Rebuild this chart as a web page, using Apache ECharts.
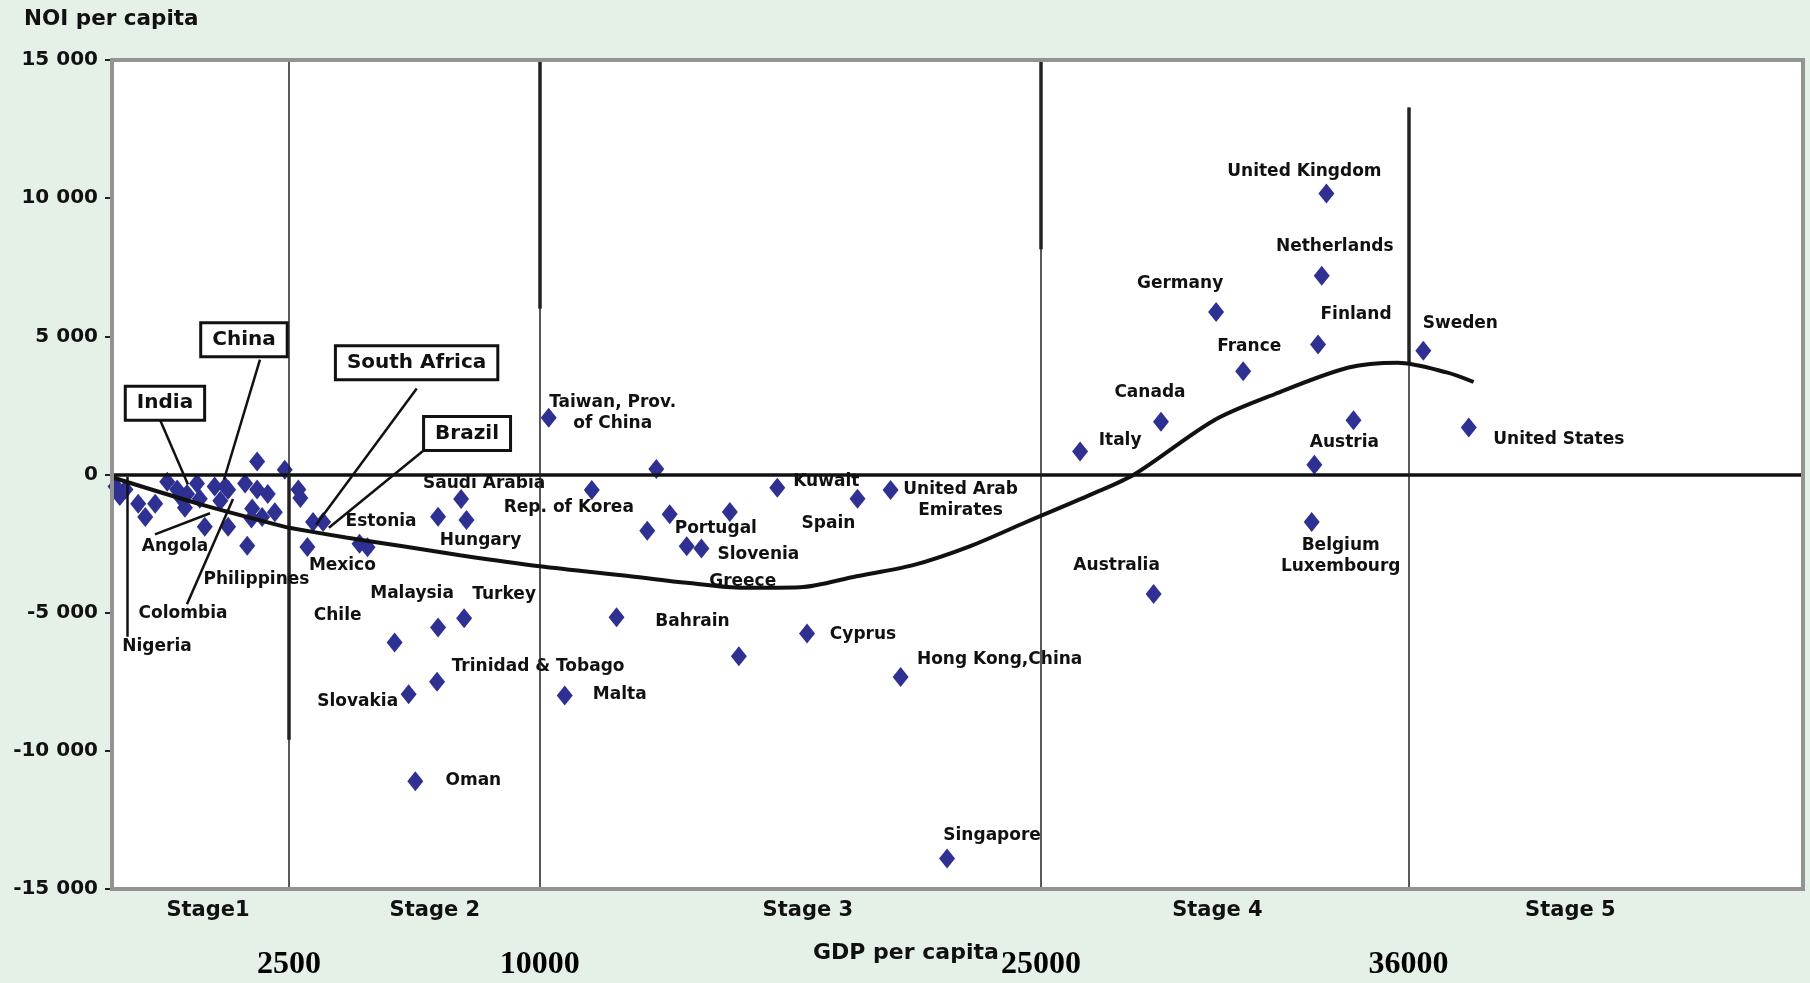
<!DOCTYPE html>
<html><head><meta charset="utf-8">
<script src="https://cdn.jsdelivr.net/npm/echarts@6/dist/echarts.min.js"></script>
<style>html,body{margin:0;padding:0;background:#e5f0e6;}#chart{width:1810px;height:983px;}</style>
</head><body><div id="chart"></div>
<script>
// ---------------- data ----------------
const countries = [
  '', '', '', '', '', '', '', '', '', '', '', '', '', '', '', '', '', '', '', '', '', '', '', '', '', '', '', '', '',
  '', '', '', 'Estonia', 'Mexico', '', '', 'Saudi Arabia', '', 'Hungary', 'Chile', 'Malaysia', 'Turkey',
  'Trinidad & Tobago', 'Slovakia', 'Oman',
  'Taiwan, Prov.\nof China', '', 'Rep. of Korea', '', '', 'Portugal', 'Greece', 'Slovenia', 'Kuwait', 'Spain',
  'United Arab\nEmirates', 'Bahrain', 'Cyprus', '', 'Hong Kong,China', 'Malta', 'Singapore',
  'Italy', 'United Kingdom', 'Netherlands', 'Germany', 'Finland', 'France', 'Sweden', 'Canada', '',
  'United States', 'Austria', 'Belgium\nLuxembourg', 'Australia'
];
const gdpPerCapita = [
  50, 110, 370, 470, 610, 780, 920, 1060, 1030, 1200, 1240, 1450, 1530, 1600, 1310, 1640, 1910, 2050, 2440, 1880, 2050, 2200, 2300, 1980, 2120, 190, 1970, 1640, 960,
  2780, 2840, 3220, 3520, 3050, 4610, 4850, 7650, 6960, 7810, 5660, 6960, 7740,
  6930, 6080, 6280,
  10270, 13490, 11560, 13890, 13220, 15690, 14400, 14840, 17110, 19510,
  20500, 12300, 18000, 15960, 20800, 10750, 22190,
  26170, 33540, 33400, 30240, 33290, 31050, 36440, 28590, 34350,
  37800, 33180, 33100, 28370
];
const noiPerCapita = [
  -430, -780, -1060, -1540, -1060, -260, -540, -710, -1200, -330, -880, -430, -950, -430, -1890, -1890, -2580, 470, 170, -330, -540, -710, -1370, -1230, -1540, -540, -1590, -550, -800,
  -540, -850, -1715, -1715, -2620, -2510, -2630, -890, -1530, -1650, -6080, -5540, -5200,
  -7500, -7950, -11100,
  2050, 200, -560, -1440, -2040, -1360, -2600, -2680, -480, -880,
  -560, -5170, -5750, -6580, -7330, -8000, -13900,
  830, 10170, 7190, 5880, 4700, 3740, 4480, 1910, 1960,
  1700, 350, -1720, -4320
];

// fitted trend curve
const trendGdp = [0, 1240, 2500, 4205, 5909, 7614, 10000, 12709, 14402, 16095, 17788, 19481, 21174, 22867, 24560, 26504, 27787, 30171, 32004, 34204, 35671, 37137, 37944];
const trendNoi = [-100, -1070, -1930, -2280, -2600, -2920, -3320, -3680, -3920, -4100, -4080, -3680, -3280, -2600, -1720, -720, 0, 1957, 2913, 3870, 4043, 3696, 3348];

// stage boundaries on the GDP axis
const stageBoundaries = [2500, 10000, 25000, 36000];
const stageBoundaryLabels = ['2500', '10000', '25000', '36000'];
const stageBoundaryTop = [15000, 15000, 15000, 13280];
// darker overdrawn pieces of the boundary lines
const boldPieceTop = [0, 15000, 15000, 13280];
const boldPieceBottom = [-9600, 6000, 8150, 4000];

const stageNames = ['Stage1', 'Stage 2', 'Stage 3', 'Stage 4', 'Stage 5'];
const stageNameGdp = [1356, 6864, 18025, 30280, 40840];

// boxed call-outs and plain notes for the crowded low-income group
const calloutNames = ['India', 'China', 'South Africa', 'Brazil'];
const calloutGdp = [748, 1864, 6318, 7828];
const calloutNoi = [2579, 4876, 4044, 1487];
const noteNames = ['Angola', 'Philippines', 'Colombia', 'Nigeria'];
const noteGdp = [890, 2040, 1003, 635];
const noteNoi = [-2617, -3794, -5042, -6237];
// leader lines: from (gdp, noi) to (gdp, noi)
const leaderFromGdp = [678, 2090, 607, 1059, 212, 6322, 6618];
const leaderFromNoi = [1977, 4160, -2166, -4695, -87, 3109, 961];
const leaderToGdp = [1073, 1581, 1384, 1709, 212, 3311, 3693];
const leaderToNoi = [-364, -190, -1403, -884, -5873, -1820, -1924];

const yMin = -15000, yMax = 15000, yStep = 5000;

// ---------------- layout / style ----------------
const labelOffsets = {
  'Saudi Arabia': [23, -16], 'Hungary': [14, 20], 'Estonia': [58, 0], 'Mexico': [35, 19],
  'Chile': [-57, -27], 'Malaysia': [-26, -34], 'Turkey': [40, -24], 'Trinidad & Tobago': [101, -15],
  'Slovakia': [-51, 7], 'Oman': [58, -1], 'Taiwan, Prov.\nof China': [64, -5], 'Rep. of Korea': [-23, 18],
  'Portugal': [-14, 16], 'Slovenia': [57, 6], 'Greece': [56, 35], 'Kuwait': [49, -6], 'Spain': [-29, 25],
  'United Arab\nEmirates': [70, 10], 'Bahrain': [76, 4], 'Cyprus': [56, 1], 'Hong Kong,China': [99, -17],
  'Malta': [55, -1], 'Singapore': [45, -23], 'Italy': [40, -11], 'United Kingdom': [-22, -22],
  'Netherlands': [13, -29], 'Germany': [-36, -28], 'Finland': [38, -30], 'France': [6, -25],
  'Sweden': [37, -27], 'Canada': [-11, -29], 'Austria': [30, -22], 'United States': [90, 12],
  'Belgium\nLuxembourg': [29, 34], 'Australia': [-37, -28]
};
const PLOT = { left: 112, top: 60, right: 1803, bottom: 889, split: 289 };
const FONT = 'DejaVu Sans';
const INK = '#111111';
const POINT = '#2e3192';
const B_MAX = 47800;

// ---------------- build ----------------
const ptsA = [], ptsB = [];
countries.forEach((n, i) => {
  const item = { name: n, value: [gdpPerCapita[i], noiPerCapita[i]] };
  if (n && labelOffsets[n]) item.label = { show: true, offset: labelOffsets[n] };
  (gdpPerCapita[i] < stageBoundaries[0] ? ptsA : ptsB).push(item);
});
const curveA = [], curveB = [];
trendGdp.forEach((g, i) => {
  if (g <= stageBoundaries[0]) curveA.push([g, trendNoi[i]]);
  if (g >= stageBoundaries[0]) curveB.push([g, trendNoi[i]]);
});
const leadersA = [], leadersB = [];
leaderFromGdp.forEach((g, i) => {
  const seg = [{ coord: [g, leaderFromNoi[i]] }, { coord: [leaderToGdp[i], leaderToNoi[i]] }];
  (g < stageBoundaries[0] ? leadersA : leadersB).push(seg);
});
const boundaryLines = stageBoundaries.map((g, i) => [
  { coord: [g, stageBoundaryTop[i]], lineStyle: { width: 1.5 } }, { coord: [g, yMin] }
]);
const boldPieces = stageBoundaries.map((g, i) => [
  { coord: [g, boldPieceTop[i]], lineStyle: { width: 3.5 } }, { coord: [g, boldPieceBottom[i]] }
]);
const calloutA = [], calloutB = [];
calloutNames.forEach((n, i) => {
  (calloutGdp[i] < stageBoundaries[0] ? calloutA : calloutB).push({ name: n, value: [calloutGdp[i], calloutNoi[i]] });
});
const notesA = noteNames.map((n, i) => ({ name: n, value: [noteGdp[i], noteNoi[i]] }));
const stageA = [], stageB = [];
stageNames.forEach((n, i) => {
  (stageNameGdp[i] < stageBoundaries[0] ? stageA : stageB).push({ name: n, value: [stageNameGdp[i], yMin] });
});

const fmtThousands = v => (v < 0 ? '-' : '') + String(Math.abs(v)).replace(/\B(?=(\d{3})+(?!\d))/g, ' ');

const pointLabel = {
  show: false, formatter: '{b}', position: 'inside', fontFamily: FONT, fontWeight: 'bold',
  fontSize: 17, color: INK, opacity: 1, align: 'center', verticalAlign: 'middle', lineHeight: 21
};
const textOnly = (xi, data, label, z) => ({
  type: 'scatter', xAxisIndex: xi, yAxisIndex: xi, data, symbolSize: 0, silent: true,
  itemStyle: { color: 'rgba(0,0,0,0)', opacity: 1 }, z,
  label: Object.assign({ show: true, formatter: '{b}', position: 'inside', fontFamily: FONT, fontWeight: 'bold', color: INK, opacity: 1, align: 'center', verticalAlign: 'middle' }, label)
});
const zeroLine = { silent: true, symbol: ['none', 'none'], label: { show: false }, z: 4,
  lineStyle: { color: INK, width: 3.5, type: 'solid' }, data: [{ yAxis: 0 }] };

const series = [
  // grid A (stage 1)
  { type: 'scatter', xAxisIndex: 0, yAxisIndex: 0, data: ptsA, symbol: 'diamond', symbolSize: [16, 20],
    itemStyle: { color: POINT, opacity: 1 }, label: pointLabel, z: 3, markLine: zeroLine },
  { type: 'line', xAxisIndex: 0, yAxisIndex: 0, data: curveA, smooth: 0.3, showSymbol: false, silent: true,
    lineStyle: { color: INK, width: 4 }, z: 6,
    markLine: { silent: true, symbol: ['none', 'none'], label: { show: false }, z: 6,
      lineStyle: { color: INK, width: 2.5, type: 'solid' }, data: leadersA } },
  textOnly(0, calloutA, { fontSize: 20, backgroundColor: '#fff', borderColor: INK, borderWidth: 3, padding: [6, 10, 5, 10] }, 8),
  textOnly(0, notesA, { fontSize: 17 }, 8),
  textOnly(0, stageA, { fontSize: 21, offset: [0, 22] }, 8),
  // grid B (stages 2-5)
  { type: 'scatter', xAxisIndex: 1, yAxisIndex: 1, data: ptsB, symbol: 'diamond', symbolSize: [16, 20],
    itemStyle: { color: POINT, opacity: 1 }, label: pointLabel, z: 3,
    markLine: { silent: true, symbol: ['none', 'none'], label: { show: false }, z: 4,
      lineStyle: { color: '#222', width: 1.5, type: 'solid' },
      data: [{ yAxis: 0, lineStyle: { color: INK, width: 3.5 } }].concat(boundaryLines, boldPieces) } },
  { type: 'line', xAxisIndex: 1, yAxisIndex: 1, data: curveB, smooth: 0.3, showSymbol: false, silent: true,
    lineStyle: { color: INK, width: 4 }, z: 6,
    markLine: { silent: true, symbol: ['none', 'none'], label: { show: false }, z: 6,
      lineStyle: { color: INK, width: 2.5, type: 'solid' }, data: leadersB } },
  textOnly(1, calloutB, { fontSize: 20, backgroundColor: '#fff', borderColor: INK, borderWidth: 3, padding: [6, 10, 5, 10] }, 8),
  textOnly(1, stageB, { fontSize: 21, offset: [0, 22] }, 8)
];

const chart = echarts.init(document.getElementById('chart'), null, { renderer: 'canvas' });
chart.setOption({
  backgroundColor: '#e5f0e6',
  animation: false,
  grid: [
    { left: PLOT.left, top: PLOT.top, width: PLOT.split - PLOT.left, height: PLOT.bottom - PLOT.top,
      show: true, backgroundColor: '#fff', borderWidth: 0 },
    { left: PLOT.split, top: PLOT.top, width: PLOT.right - PLOT.split, height: PLOT.bottom - PLOT.top,
      show: true, backgroundColor: '#fff', borderWidth: 0 }
  ],
  xAxis: [
    { gridIndex: 0, type: 'value', min: 0, max: stageBoundaries[0], show: false },
    { gridIndex: 1, type: 'value', min: stageBoundaries[0], max: B_MAX,
      axisLine: { show: false }, axisTick: { show: false }, splitLine: { show: false },
      axisLabel: { customValues: stageBoundaries, showMinLabel: true, hideOverlap: false, margin: 60,
        formatter: v => stageBoundaryLabels[stageBoundaries.indexOf(v)] || '',
        fontFamily: 'Liberation Serif', fontWeight: 'bold', fontSize: 32, color: '#000' } }
  ],
  yAxis: [
    { gridIndex: 0, type: 'value', min: yMin, max: yMax, interval: yStep,
      axisLine: { show: false }, splitLine: { show: false },
      axisTick: { show: true, length: 7, lineStyle: { color: '#222', width: 2 } },
      axisLabel: { margin: 14, fontSize: 20, fontWeight: 'bold', fontFamily: FONT, color: INK, formatter: fmtThousands } },
    { gridIndex: 1, type: 'value', min: yMin, max: yMax, interval: yStep, show: false }
  ],
  graphic: [
    { type: 'rect', z: 20, silent: true,
      shape: { x: PLOT.left, y: PLOT.top, width: PLOT.right - PLOT.left, height: PLOT.bottom - PLOT.top },
      style: { fill: 'none', stroke: '#939393', lineWidth: 4 } },
    { type: 'text', left: 24, top: 8, z: 20,
      style: { text: 'NOI per capita', font: 'bold 21.5px "DejaVu Sans"', fill: INK } },
    { type: 'text', left: 813, top: 942, z: 20,
      style: { text: 'GDP per capita', font: 'bold 22px "DejaVu Sans"', fill: INK } }
  ],
  series
});
</script></body></html>
